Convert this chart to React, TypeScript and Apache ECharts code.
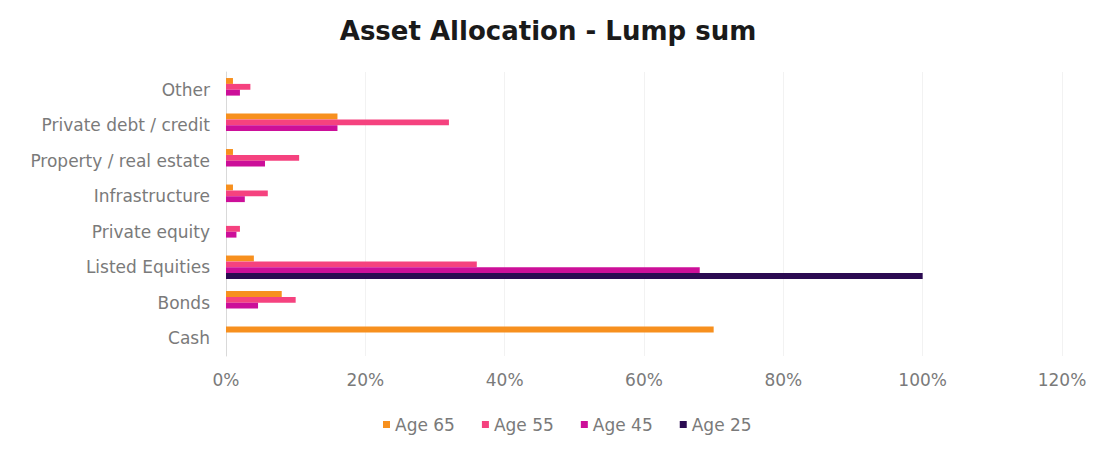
import React, { useEffect, useRef } from "react";
import * as echarts from "echarts";

const categories = [
  "Cash",
  "Bonds",
  "Listed Equities",
  "Private equity",
  "Infrastructure",
  "Property / real estate",
  "Private debt / credit",
  "Other",
];
const seriesNames = ["Age 65", "Age 55", "Age 45", "Age 25"];
const age65 = [70, 8, 4, 0, 1, 1, 16, 1];
const age55 = [0, 10, 36, 2, 6, 10.5, 32, 3.5];
const age45 = [0, 4.6, 68, 1.5, 2.7, 5.6, 16, 2];
const age25 = [0, 0, 100, 0, 0, 0, 0, 0];
const xTicks = [0, 20, 40, 60, 80, 100, 120];
const colors = ["#F7901E", "#F5427F", "#CC0F99", "#2B0B52"];

const FONT = "DejaVu Sans, Verdana, sans-serif";

export default function App() {
  const ref = useRef<HTMLDivElement>(null);
  useEffect(() => {
    document.body.style.margin = "0";
    const chart = echarts.init(ref.current!, null, { renderer: "svg" });
    const values = [age65, age55, age45, age25];
    chart.setOption({
      animation: false,
      title: {
        text: "Asset Allocation - Lump sum",
        left: "center",
        top: 13,
        textStyle: {
          fontFamily: FONT,
          fontSize: 26,
          fontWeight: "bold",
          color: "#1a1a1a",
        },
      },
      legend: {
        data: seriesNames,
        top: 411,
        left: 378,
        icon: "rect",
        itemWidth: 7,
        itemHeight: 7,
        itemGap: 27,
        textStyle: {
          fontFamily: FONT,
          fontSize: 17,
          color: "#7a7a7a",
        },
      },
      grid: { left: 226, right: 34, top: 72, bottom: 94 },
      xAxis: {
        type: "value",
        min: 0,
        max: 120,
        interval: 20,
        axisLabel: {
          formatter: (v: number) => (xTicks.includes(v) ? v + "%" : ""),
          fontFamily: FONT,
          fontSize: 17,
          color: "#7a7a7a",
          margin: 15,
        },
        axisLine: { show: false },
        axisTick: { show: false },
        splitLine: { show: true, lineStyle: { color: "#f2f2f2" } },
      },
      yAxis: {
        type: "category",
        data: categories,
        axisLabel: {
          fontFamily: FONT,
          fontSize: 17,
          color: "#7a7a7a",
          margin: 16,
        },
        axisLine: { show: true, lineStyle: { color: "#d9d9d9" } },
        axisTick: { show: false },
      },
      series: values.map((v, i) => ({
        name: seriesNames[i],
        type: "bar",
        data: v,
        itemStyle: { color: colors[i] },
        barGap: "0%",
        barCategoryGap: "34%",
      })),
    });
    return () => chart.dispose();
  }, []);
  return <div ref={ref} style={{ width: 1096, height: 450 }} />;
}
